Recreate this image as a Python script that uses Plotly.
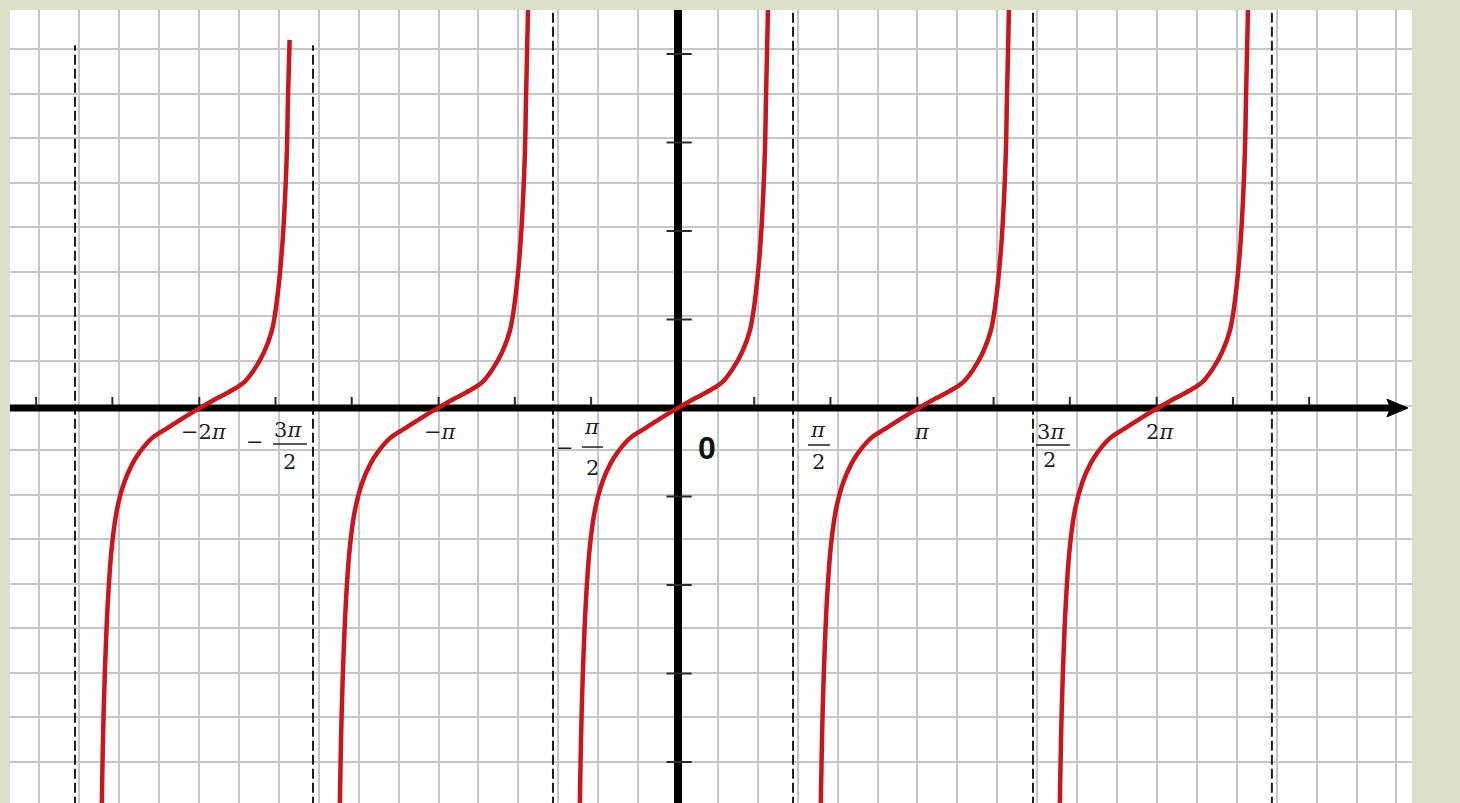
import plotly.graph_objects as go

# ---- curve branches (x in radians, y in axis units) ----
branch_y = [-4.60, -3.30, -2.17, -1.55, -1.15, -0.85, -0.64, -0.51, -0.34, -0.23, -0.10, 0.0,
            0.11, 0.20, 0.29, 0.43, 0.63, 0.88, 1.22, 1.79, 2.35, 2.92, 3.48, 4.60]
branch1_y = [-4.60, -3.30, -2.17, -1.55, -1.15, -0.85, -0.64, -0.51, -0.34, -0.23, -0.10, 0.0,
             0.11, 0.20, 0.29, 0.43, 0.63, 0.88, 1.22, 1.79, 2.35, 2.92, 3.48, 4.16]

branch1_x = [-7.561, -7.530, -7.478, -7.425, -7.360, -7.268, -7.163, -7.071, -6.901, -6.704, -6.468, -6.271,
             -6.048, -5.851, -5.694, -5.563, -5.431, -5.326, -5.261, -5.195, -5.156, -5.130, -5.117, -5.095]
branch2_x = [-4.438, -4.407, -4.355, -4.302, -4.237, -4.145, -4.040, -3.948, -3.778, -3.581, -3.345, -3.148,
             -2.925, -2.728, -2.571, -2.440, -2.308, -2.203, -2.138, -2.072, -2.033, -2.007, -1.994, -1.965]
branch3_x = [-1.290, -1.259, -1.207, -1.154, -1.089, -0.997, -0.892, -0.800, -0.630, -0.433, -0.197, 0.0,
             0.223, 0.420, 0.577, 0.708, 0.840, 0.945, 1.010, 1.076, 1.115, 1.141, 1.154, 1.183]
branch4_x = [1.871, 1.902, 1.954, 2.007, 2.072, 2.164, 2.269, 2.361, 2.531, 2.728, 2.964, 3.161,
             3.384, 3.581, 3.738, 3.869, 4.001, 4.106, 4.171, 4.237, 4.276, 4.302, 4.315, 4.344]
branch5_x = [5.007, 5.038, 5.090, 5.143, 5.208, 5.300, 5.405, 5.497, 5.667, 5.864, 6.100, 6.297,
             6.520, 6.717, 6.874, 7.005, 7.137, 7.242, 7.307, 7.373, 7.412, 7.438, 7.451, 7.480]

branches = [(branch1_x, branch1_y), (branch2_x, branch_y), (branch3_x, branch_y),
            (branch4_x, branch_y), (branch5_x, branch_y)]

# ---- vertical asymptotes ----
asymptote_x = [-7.910, -4.788, -1.640, 1.509, 4.657, 7.791]
asymptote_top = [4.10, 4.10, 4.60, 4.60, 4.60, 4.60]

# ---- axis ticks ----
x_ticks = [-8.42, -7.42, -6.28, -5.28, -4.28, -3.14, -2.14, -1.14,
           1.0, 2.0, 3.14, 4.14, 5.14, 6.28, 7.28, 8.28]
y_ticks = [-4, -3, -2, -1, 1, 2, 3, 4]

# ---- tick labels ----
simple_labels = ["\u22122<i>\u03c0</i>", "\u2212<i>\u03c0</i>", "<i>\u03c0</i>", "2<i>\u03c0</i>"]
simple_label_pos = [(-6.218, -0.271), (-3.122, -0.271), (3.201, -0.271), (6.323, -0.271)]

frac_numerators = ["3<i>\u03c0</i>", "<i>\u03c0</i>", "<i>\u03c0</i>", "3<i>\u03c0</i>"]
frac_denominators = ["2", "2", "2", "2"]
frac_negative = [True, True, False, False]
frac_layout = [
    dict(num_x=-5.116, num_y=-0.249, bar=(-5.313, -4.867), bar_y=-0.407, den_x=-5.103, den_y=-0.610, minus=(-5.549, -0.384)),
    dict(num_x=-1.128, num_y=-0.215, bar=(-1.259, -0.984), bar_y=-0.441, den_x=-1.128, den_y=-0.678, minus=(-1.482, -0.452)),
    dict(num_x=1.837, num_y=-0.249, bar=(1.705, 1.994), bar_y=-0.418, den_x=1.837, den_y=-0.610, minus=None),
    dict(num_x=4.893, num_y=-0.271, bar=(4.696, 5.142), bar_y=-0.418, den_x=4.880, den_y=-0.588, minus=None),
]

X_RANGE = [-8.763, 9.629]
Y_RANGE = [-4.463, 4.497]
ARROW_BASE = 9.30
ARROW_TIP = 9.576
LABEL_FONT = dict(family="DejaVu Serif", size=21, color="#1e1e1e")

fig = go.Figure()

# horizontal axis: thick black line under the curves, over the grid
fig.add_trace(go.Scatter(
    x=[X_RANGE[0] - 0.1, ARROW_BASE + 0.08], y=[0, 0], mode="lines",
    line=dict(color="black", width=7), hoverinfo="skip", showlegend=False,
))

for bx, by in branches:
    fig.add_trace(go.Scatter(
        x=bx, y=by, mode="lines",
        line=dict(color="#c8161c", width=4.5, shape="spline", smoothing=1.0),
        hoverinfo="skip", showlegend=False,
    ))

shapes = []
for ax_x, top in zip(asymptote_x, asymptote_top):
    shapes.append(dict(type="line", xref="x", yref="y", x0=ax_x, x1=ax_x, y0=Y_RANGE[0] - 0.2, y1=top,
                       line=dict(color="#1e1e1e", width=2, dash="10px,4px"), layer="between"))

# arrow head
shapes.append(dict(type="path", xref="x", yref="y",
                   path=f"M {ARROW_BASE},0.100 L {ARROW_TIP},0 L {ARROW_BASE},-0.100 L {ARROW_BASE + 0.05},0 Z",
                   fillcolor="black", line=dict(color="black", width=1), layer="above"))

for t in x_ticks:
    shapes.append(dict(type="line", xref="x", yref="y", x0=t, x1=t, y0=0.03, y1=0.125,
                       line=dict(color="#2a2a2a", width=2), layer="above"))
for t in y_ticks:
    shapes.append(dict(type="line", xref="x", yref="y", x0=-0.150, x1=0.180, y0=t, y1=t,
                       line=dict(color="#2a2a2a", width=2), layer="above"))

annotations = []
for txt, (lx, ly) in zip(simple_labels, simple_label_pos):
    annotations.append(dict(x=lx, y=ly, xref="x", yref="y", text=txt, showarrow=False,
                            font=LABEL_FONT, xanchor="center", yanchor="middle"))

for num, den, neg, lay in zip(frac_numerators, frac_denominators, frac_negative, frac_layout):
    annotations.append(dict(x=lay["num_x"], y=lay["num_y"], xref="x", yref="y", text=num,
                            showarrow=False, font=LABEL_FONT, xanchor="center", yanchor="middle"))
    annotations.append(dict(x=lay["den_x"], y=lay["den_y"], xref="x", yref="y", text=den,
                            showarrow=False, font=LABEL_FONT, xanchor="center", yanchor="middle"))
    shapes.append(dict(type="line", xref="x", yref="y", x0=lay["bar"][0], x1=lay["bar"][1],
                       y0=lay["bar_y"], y1=lay["bar_y"], line=dict(color="#222222", width=1.5),
                       layer="above"))
    if neg and lay["minus"]:
        mx, my = lay["minus"]
        annotations.append(dict(x=mx, y=my, xref="x", yref="y", text="\u2212",
                                showarrow=False, font=LABEL_FONT, xanchor="center", yanchor="middle"))

annotations.append(dict(x=0.380, y=-0.452, xref="x", yref="y", text="<b>0</b>", showarrow=False,
                        font=dict(family="Liberation Sans", size=32, color="#111111"),
                        xanchor="center", yanchor="middle"))
annotations.append(dict(x=9.891, y=0.249, xref="x", yref="y", text="<b>X</b>", showarrow=False,
                        font=dict(family="Liberation Sans", size=30, color="#111111"),
                        xanchor="center", yanchor="middle"))

fig.update_layout(
    width=1460, height=803,
    margin=dict(l=10, r=48, t=10, b=0),
    paper_bgcolor="#d9dfc9",
    plot_bgcolor="white",
    shapes=shapes,
    annotations=annotations,
    xaxis=dict(range=X_RANGE, showgrid=True, gridcolor="#c6c6c6", gridwidth=1.5,
               tick0=0, dtick=0.5236, zeroline=True, zerolinecolor="black", zerolinewidth=8,
               showticklabels=False, ticks="", showline=False, fixedrange=True),
    yaxis=dict(range=Y_RANGE, showgrid=True, gridcolor="#c6c6c6", gridwidth=1.5,
               tick0=-4.0, dtick=0.5035, zeroline=False, showticklabels=False, ticks="",
               showline=False, fixedrange=True),
    showlegend=False,
)

fig.write_html("out.html", config={"displayModeBar": False})
